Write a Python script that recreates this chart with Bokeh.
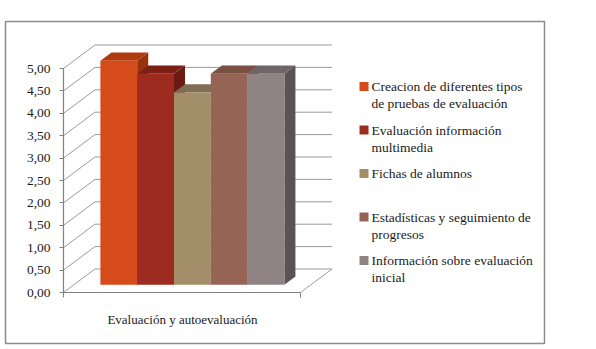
from bokeh.plotting import figure
from bokeh.models import Range1d, LinearAxis, FixedTicker
from bokeh.core.properties import value
from bokeh.embed import file_html
from bokeh.resources import INLINE

# ---------------- data ----------------
category = "Evaluación y autoevaluación"
series_names = [
    "Creacion de diferentes tipos\nde pruebas de evaluación",
    "Evaluación información\nmultimedia",
    "Fichas de alumnos",
    "Estadísticas y seguimiento de\nprogresos",
    "Información sobre evaluación\ninicial",
]
series_values = [5.00, 4.71, 4.29, 4.71, 4.71]
y_ticks = [0.0, 0.5, 1.0, 1.5, 2.0, 2.5, 3.0, 3.5, 4.0, 4.5, 5.0]
y_tick_labels = ["0,00", "0,50", "1,00", "1,50", "2,00", "2,50",
                 "3,00", "3,50", "4,00", "4,50", "5,00"]

# ---------------- styles ----------------
front_colors = ["#D54B1A", "#9D2B1F", "#A38E6A", "#956455", "#8F8384"]
top_colors = ["#B13B10", "#7C2016", "#7E6E55", "#7A4F44", "#6F6566"]
side_colors = ["#98320D", "#6B1B13", "#6C5E48", "#68443A", "#5B5253"]
FONT = "serif"
GRID = "#9a9a9a"
AXIS = "#808080"

W, H = 596, 349
B_L, B_T, B_R, B_B = 5, 21, 544, 343      # outer chart border (px)
ZERO_PY = 292.0                            # screen y of value 0 on the front plane
PPU = 44.8                                 # pixels per value unit
AX_X = 63.0                                # front y-axis position
CAT_END = 300.0                            # front right end of category axis
DX = 31.5                                  # depth shift in x (px)
DYV = 23.5 / PPU                           # depth shift in value units
T0, T1 = 0.33, 0.68                        # bar depth (fraction of floor depth)
BAR_W = 36.8


def vy(py):
    return (ZERO_PY - py) / PPU


p = figure(width=W, height=H, output_backend="svg", toolbar_location=None,
           x_axis_type=None, y_axis_type=None,
           x_range=Range1d(B_L, B_R), y_range=Range1d(vy(B_B), vy(B_T)),
           min_border_left=B_L, min_border_right=W - B_R,
           min_border_top=B_T, min_border_bottom=H - B_B)
p.grid.visible = False
p.outline_line_color = "#8c8c8c"
p.outline_line_width = 1.5
p.background_fill_color = "white"
p.border_fill_color = "white"

# walls / gridlines (left wall diagonal + back wall line)
gx, gy = [], []
for v in y_ticks:
    gx.append([AX_X, AX_X + DX, CAT_END + DX])
    gy.append([v, v + DYV, v + DYV])
p.multi_line(gx, gy, line_color=GRID, line_width=1)
# floor right edge
p.line([CAT_END, CAT_END + DX], [0, DYV], line_color=GRID, line_width=1)

# bars (side, top, front for each, painter's order left to right)
cx = (AX_X + CAT_END) / 2.0
left0 = cx - BAR_W * len(series_values) / 2.0
xs, ys, fc = [], [], []
for i, v in enumerate(series_values):
    xl = left0 + i * BAR_W
    xr = xl + BAR_W
    a0x, a0y = T0 * DX, T0 * DYV
    a1x, a1y = T1 * DX, T1 * DYV
    # right side
    xs.append([xr + a0x, xr + a1x, xr + a1x, xr + a0x])
    ys.append([a0y, a1y, v + a1y, v + a0y])
    fc.append(side_colors[i])
    # top
    xs.append([xl + a0x, xr + a0x, xr + a1x, xl + a1x])
    ys.append([v + a0y, v + a0y, v + a1y, v + a1y])
    fc.append(top_colors[i])
    # front
    xs.append([xl + a0x, xr + a0x, xr + a0x, xl + a0x])
    ys.append([a0y, a0y, v + a0y, v + a0y])
    fc.append(front_colors[i])
p.patches(xs, ys, fill_color=fc, line_color=None)

# value axis on the front plane
yaxis = LinearAxis(fixed_location=AX_X, bounds=(0, 5),
                   ticker=FixedTicker(ticks=y_ticks, minor_ticks=[]),
                   major_label_overrides={t: l for t, l in zip(y_ticks, y_tick_labels)},
                   axis_line_color=AXIS, axis_line_width=1.2,
                   major_tick_line_color=AXIS, major_tick_out=4, major_tick_in=0,
                   minor_tick_line_color=None,
                   major_label_standoff=9,
                   major_label_text_font=FONT, major_label_text_font_size="13.5px",
                   major_label_text_color="#1a1a1a")
p.add_layout(yaxis, "left")

# category axis (floor front edge)
cat_tick = round(cx)
xaxis = LinearAxis(fixed_location=0, bounds=(AX_X, CAT_END),
                   ticker=FixedTicker(ticks=[cat_tick], minor_ticks=[AX_X, CAT_END]),
                   major_label_overrides={cat_tick: category},
                   axis_line_color=AXIS, axis_line_width=1.2,
                   major_tick_line_color=None, major_tick_out=0, major_tick_in=0,
                   minor_tick_line_color=AXIS, minor_tick_out=5, minor_tick_in=0,
                   major_label_standoff=14,
                   major_label_text_font=FONT, major_label_text_font_size="13px",
                   major_label_text_color="#1a1a1a")
p.add_layout(xaxis, "below")

# legend
LEG_SQ_X = 363.5
LEG_TX_X = 371.0
LEG_Y0 = 86.0
LEG_STEP = 43.5
LEG_LINE = 17.3
sq_x, sq_y, tx, ty, tt = [], [], [], [], []
for i, name in enumerate(series_names):
    y0 = LEG_Y0 + i * LEG_STEP
    sq_x.append(LEG_SQ_X)
    sq_y.append(vy(y0))
    for j, line in enumerate(name.split("\n")):
        tx.append(LEG_TX_X)
        ty.append(vy(y0 + j * LEG_LINE))
        tt.append(line)
p.scatter(sq_x, sq_y, marker="square", size=9, fill_color=front_colors,
          line_color=None)
p.text(tx, ty, text=tt, text_font=value(FONT), text_font_size="13.5px",
       text_baseline="middle", text_align="left", text_color="#1a1a1a")

open("out.html", "w").write(file_html(p, INLINE))
